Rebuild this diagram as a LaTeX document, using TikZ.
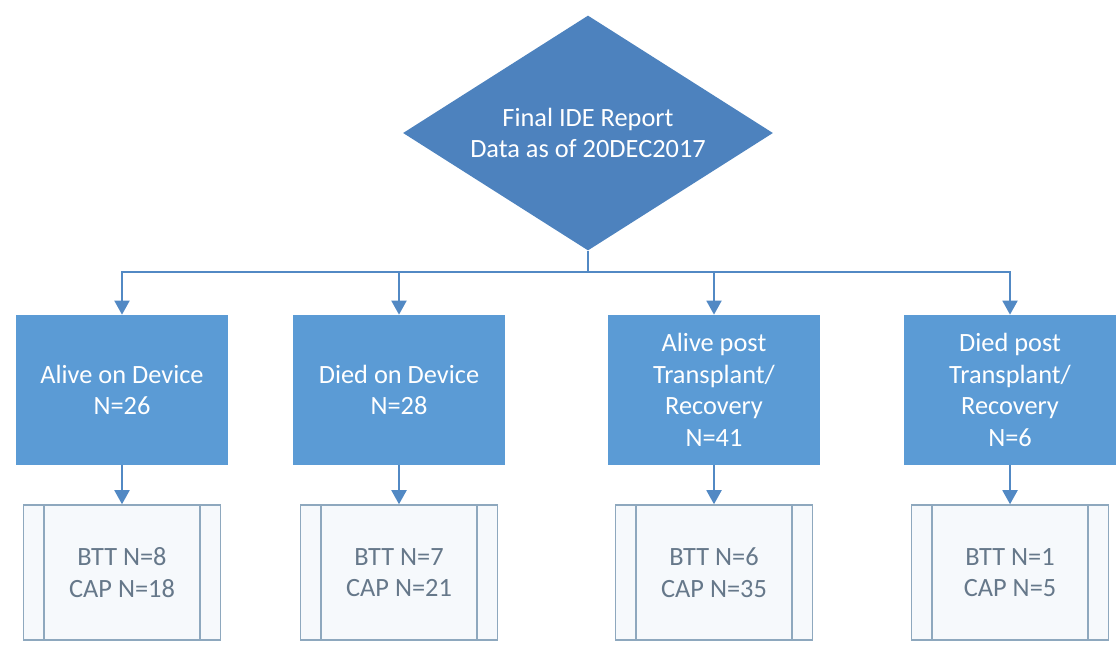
\documentclass[tikz,border=0pt]{standalone}
\usepackage{fontspec}
\setmainfont{Carlito}
\usetikzlibrary{shapes.geometric,arrows.meta}
\definecolor{diablue}{HTML}{4D82BE}
\definecolor{boxblue}{HTML}{5B9BD5}
\definecolor{lineblue}{HTML}{5289C4}
\definecolor{subedge}{HTML}{8EA8BE}
\definecolor{subfill}{HTML}{F6F9FC}
\definecolor{subtext}{HTML}{66788A}
\begin{document}
\begin{tikzpicture}[
    decision/.style={diamond, aspect=1.57, fill=diablue, text=white, minimum width=7.4cm, minimum height=4.7cm, inner sep=0pt, align=center, font=\fontsize{15}{18}\selectfont},
    outcome/.style={rectangle, fill=boxblue, text=white, minimum width=4.24cm, minimum height=3cm, align=center, font=\fontsize{15}{18}\selectfont},
    subbox/.style={rectangle, draw=subedge, line width=0.9pt, fill=subfill, text=subtext, minimum width=3.94cm, minimum height=2.7cm, align=center, font=\fontsize{15}{18}\selectfont},
    arr/.style={-{Triangle[width=0.3cm,length=0.28cm]}, draw=lineblue, line width=1.1pt},
    conn/.style={draw=lineblue, line width=1.1pt}
  ]
  \useasboundingbox (0,0) rectangle (22.38,-13.12);
  \node[decision] at (11.76, -2.66) (report) {Final IDE Report\\Data as of 20DEC2017};
  \coordinate (split) at (11.76, -5.44);

  \node[outcome] at (2.44, -7.8) (alivedev) {Alive on Device\\N=26};
  \node[outcome] at (7.98, -7.8) (dieddev) {Died on Device\\N=28};
  \node[outcome] at (14.28, -7.8) (alivetx) {Alive post\\Transplant/\\Recovery\\N=41};
  \node[outcome] at (20.2, -7.8) (diedtx) {Died post\\Transplant/\\Recovery\\N=6};

  \node[subbox] at (2.44, -11.45) (sub1) {BTT N=8\\CAP N=18};
  \node[subbox] at (7.98, -11.45) (sub2) {BTT N=7\\CAP N=21};
  \node[subbox] at (14.28, -11.45) (sub3) {BTT N=6\\CAP N=35};
  \node[subbox] at (20.2, -11.45) (sub4) {BTT N=1\\CAP N=5};

  % side bars of the sub boxes
  \foreach \s in {sub1, sub2, sub3, sub4} {
    \draw[subedge, line width=0.9pt] ([xshift=0.43cm]\s.north west) -- ([xshift=0.43cm]\s.south west);
    \draw[subedge, line width=0.9pt] ([xshift=-0.43cm]\s.north east) -- ([xshift=-0.43cm]\s.south east);
  }

  \draw[conn] (report.south) -- (split);
  \foreach \t in {alivedev, dieddev, alivetx, diedtx}
    \draw[arr] (split) -| (\t.north);
  \draw[arr] (alivedev.south) -- (sub1.north);
  \draw[arr] (dieddev.south) -- (sub2.north);
  \draw[arr] (alivetx.south) -- (sub3.north);
  \draw[arr] (diedtx.south) -- (sub4.north);
\end{tikzpicture}
\end{document}
